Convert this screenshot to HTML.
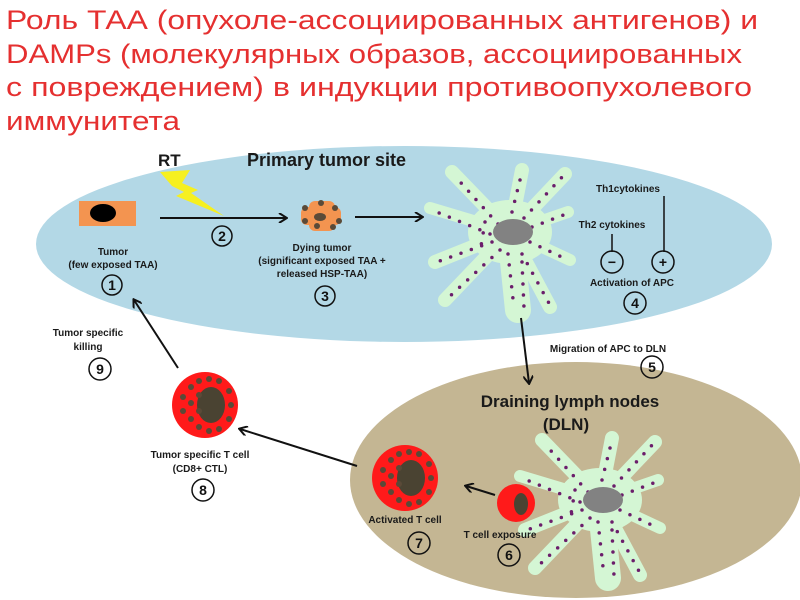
<!DOCTYPE html>
<html><head><meta charset="utf-8"><style>
html,body{margin:0;padding:0;background:#fff;}
svg{display:block;}
.t{font-family:"Liberation Sans",sans-serif;font-weight:bold;font-size:10px;fill:#1a1a1a;text-anchor:middle;}
.n{font-family:"Liberation Sans",sans-serif;font-weight:bold;font-size:14px;fill:#111;text-anchor:middle;}
.h{font-family:"Liberation Sans","Noto Sans CJK SC",sans-serif;font-size:27px;fill:#e53030;}
</style></head><body>
<svg width="800" height="600" viewBox="0 0 800 600" xmlns="http://www.w3.org/2000/svg">
<defs>
<marker id="a" markerWidth="10" markerHeight="10" refX="8" refY="5" orient="auto" markerUnits="userSpaceOnUse"><path d="M1,0 L9,5 L1,10" fill="none" stroke="#111" stroke-width="2"/></marker>
<g id="dc">
 <g stroke="#d4f6d4" stroke-linecap="round" fill="none">
  <path d="M0,0 L-58,-60" stroke-width="14"/>
  <path d="M0,0 L12,-62" stroke-width="14"/>
  <path d="M0,0 L55,-58" stroke-width="14"/>
  <path d="M0,0 L-80,-24" stroke-width="12"/>
  <path d="M0,0 L-75,30" stroke-width="14"/>
  <path d="M0,0 L-65,68" stroke-width="14"/>
  <path d="M0,0 L58,-20" stroke-width="12"/>
  <path d="M0,0 L60,28" stroke-width="12"/>
  <path d="M0,0 L40,75" stroke-width="14"/>
  <path d="M0,0 L8,78" stroke-width="26"/>
  <ellipse cx="0" cy="0" rx="42" ry="32" fill="#d4f6d4" stroke="none"/>
 </g>
 <g stroke="#6b1e6b" stroke-linecap="round" stroke-width="3.5" stroke-dasharray="0 11" fill="none">
  <path d="M-12,-8 L-56,-57"/><path d="M2,-20 L12,-60"/><path d="M14,-14 L53,-56"/>
  <path d="M-20,2 L-78,-22"/><path d="M-18,10 L-73,30"/><path d="M-10,18 L-62,66"/>
  <path d="M22,-5 L56,-18"/><path d="M20,10 L58,28"/><path d="M12,22 L40,73"/>
  <path d="M-2,22 L4,76"/><path d="M12,30 L14,76"/><path d="M-25,-10 L-30,20"/>
 </g>
 <ellipse cx="3" cy="0" rx="20" ry="13" fill="#828282"/>
</g>
<g id="tc">
 <circle r="33" fill="#ff1a1a"/>
 <ellipse cx="6" cy="0" rx="14" ry="18" fill="#4a4332"/>
 <g fill="#5a4a38">
  <circle cx="-22" cy="-8" r="3"/><circle cx="-22" cy="6" r="3"/><circle cx="-14" cy="-18" r="3"/><circle cx="-14" cy="-2" r="3"/><circle cx="-14" cy="14" r="3"/>
  <circle cx="-6" cy="-24" r="3"/><circle cx="-6" cy="-10" r="3"/><circle cx="-6" cy="6" r="3"/><circle cx="-6" cy="22" r="3"/>
  <circle cx="4" cy="-26" r="3"/><circle cx="4" cy="26" r="3"/><circle cx="14" cy="-24" r="3"/><circle cx="14" cy="24" r="3"/>
  <circle cx="24" cy="-14" r="3"/><circle cx="26" cy="0" r="3"/><circle cx="24" cy="14" r="3"/>
 </g>
</g>
</defs>
<text class="h" x="6" y="29" textLength="752" lengthAdjust="spacingAndGlyphs">Роль ТАА (опухоле-ассоциированных антигенов) и</text>
<text class="h" x="6" y="63" textLength="736" lengthAdjust="spacingAndGlyphs">DAMPs (молекулярных образов, ассоциированных</text>
<text class="h" x="6" y="96" textLength="746" lengthAdjust="spacingAndGlyphs">с повреждением) в индукции противоопухолевого</text>
<text class="h" x="6" y="130" textLength="174" lengthAdjust="spacingAndGlyphs">иммунитета</text>

<ellipse cx="404" cy="244" rx="368" ry="98" fill="#b3d8e6"/>
<ellipse cx="576" cy="480" rx="226" ry="118" fill="#c4b693"/>

<text x="247" y="166" font-family="Liberation Sans,sans-serif" font-weight="bold" font-size="18" fill="#1a1a1a">Primary tumor site</text>
<text x="158" y="166" font-family="Liberation Sans,sans-serif" font-weight="bold" font-size="17" fill="#1a1a1a">RT</text>
<polygon points="160,172 190,170 182,183 198,190 191,193 224,216 176,196 184,192 172,186" fill="#f6f020"/>

<rect x="79" y="201" width="57" height="25" fill="#f39450"/>
<ellipse cx="103" cy="213" rx="13" ry="9" fill="#000"/>
<line x1="160" y1="218" x2="286" y2="218" stroke="#111" stroke-width="2" marker-end="url(#a)"/>
<circle cx="222" cy="236" r="10" fill="none" stroke="#111" stroke-width="1.5"/><text class="n" x="222" y="241">2</text>
<text class="t" x="113" y="255">Tumor</text><text class="t" x="113" y="268">(few exposed TAA)</text>
<circle cx="112" cy="285" r="10" fill="none" stroke="#111" stroke-width="1.5"/><text class="n" x="112" y="290">1</text>

<g transform="translate(321,217)">
 <rect x="-20" y="-10" width="40" height="18" rx="6" fill="#f39450"/>
 <rect x="-12" y="-16" width="26" height="30" rx="6" fill="#f39450"/>
 <g fill="#5a4a38"><circle cx="-16" cy="-9" r="3"/><circle cx="0" cy="-14" r="3"/><circle cx="14" cy="-9" r="3"/><circle cx="-16" cy="4" r="3"/><circle cx="18" cy="4" r="3"/><circle cx="-4" cy="9" r="3"/><circle cx="12" cy="10" r="3"/></g>
 <ellipse cx="-1" cy="0" rx="6" ry="4" fill="#5a4a38"/>
</g>
<text class="t" x="322" y="251">Dying tumor</text><text class="t" x="322" y="264">(significant exposed TAA +</text><text class="t" x="322" y="277">released HSP-TAA)</text>
<circle cx="325" cy="296" r="10" fill="none" stroke="#111" stroke-width="1.5"/><text class="n" x="325" y="301">3</text>
<line x1="355" y1="217" x2="422" y2="217" stroke="#111" stroke-width="2" marker-end="url(#a)"/>

<use href="#dc" transform="translate(510,232)"/>

<text class="t" x="628" y="192">Th1cytokines</text>
<line x1="664" y1="196" x2="664" y2="252" stroke="#111" stroke-width="1.5"/>
<text class="t" x="612" y="228">Th2 cytokines</text>
<line x1="612" y1="234" x2="612" y2="252" stroke="#111" stroke-width="1.5"/>
<circle cx="612" cy="262" r="11" fill="none" stroke="#111" stroke-width="1.5"/><text class="n" x="612" y="267">−</text>
<circle cx="663" cy="262" r="11" fill="none" stroke="#111" stroke-width="1.5"/><text class="n" x="663" y="267">+</text>
<text class="t" x="632" y="286">Activation of APC</text>
<circle cx="635" cy="303" r="11" fill="none" stroke="#111" stroke-width="1.5"/><text class="n" x="635" y="308">4</text>

<line x1="521" y1="318" x2="529" y2="383" stroke="#111" stroke-width="2" marker-end="url(#a)"/>
<text class="t" x="608" y="352">Migration of APC to DLN</text>
<circle cx="652" cy="367" r="11" fill="none" stroke="#111" stroke-width="1.5"/><text class="n" x="652" y="372">5</text>

<text x="570" y="407" font-family="Liberation Sans,sans-serif" font-weight="bold" font-size="17" fill="#1a1a1a" text-anchor="middle">Draining lymph nodes</text>
<text x="566" y="430" font-family="Liberation Sans,sans-serif" font-weight="bold" font-size="17" fill="#1a1a1a" text-anchor="middle">(DLN)</text>

<use href="#dc" transform="translate(600,500)"/>

<circle cx="516" cy="503" r="19" fill="#ff1a1a"/>
<ellipse cx="521" cy="504" rx="7" ry="11" fill="#4a4332"/>
<line x1="495" y1="495" x2="466" y2="486" stroke="#111" stroke-width="2" marker-end="url(#a)"/>

<use href="#tc" transform="translate(405,478)"/>
<text class="t" x="405" y="523">Activated T cell</text>
<circle cx="419" cy="543" r="11" fill="none" stroke="#111" stroke-width="1.5"/><text class="n" x="419" y="548">7</text>
<text class="t" x="500" y="538">T cell exposure</text>
<circle cx="509" cy="555" r="11" fill="none" stroke="#111" stroke-width="1.5"/><text class="n" x="509" y="560">6</text>

<line x1="357" y1="466" x2="240" y2="429" stroke="#111" stroke-width="2" marker-end="url(#a)"/>
<use href="#tc" transform="translate(205,405)"/>
<text class="t" x="200" y="458">Tumor specific T cell</text><text class="t" x="200" y="472">(CD8+ CTL)</text>
<circle cx="203" cy="490" r="11" fill="none" stroke="#111" stroke-width="1.5"/><text class="n" x="203" y="495">8</text>

<line x1="178" y1="368" x2="134" y2="300" stroke="#111" stroke-width="2" marker-end="url(#a)"/>
<text class="t" x="88" y="336">Tumor specific</text><text class="t" x="88" y="350">killing</text>
<circle cx="100" cy="369" r="11" fill="none" stroke="#111" stroke-width="1.5"/><text class="n" x="100" y="374">9</text>
</svg>
</body></html>
